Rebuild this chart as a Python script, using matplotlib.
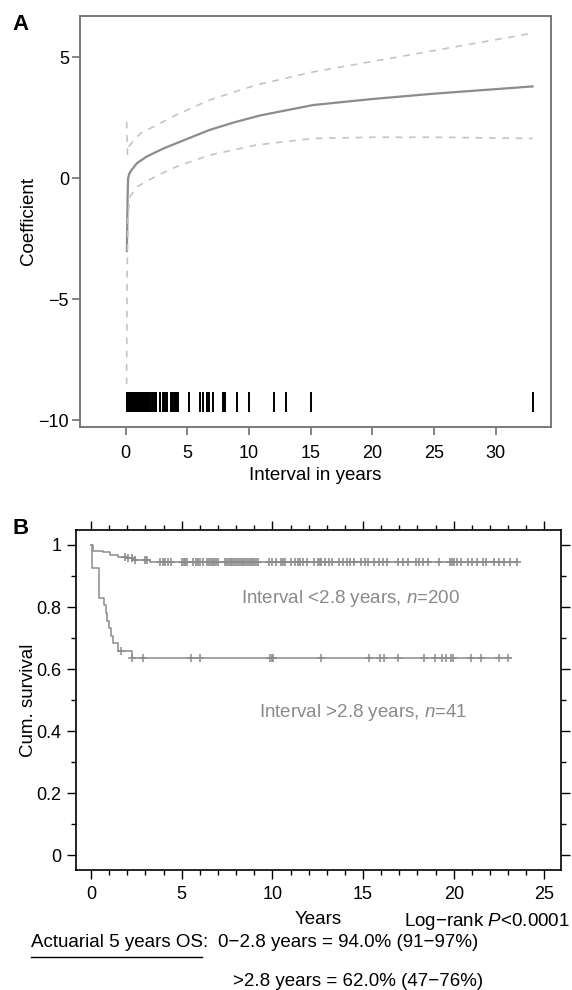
import matplotlib
matplotlib.use("Agg")
import matplotlib.pyplot as plt
from matplotlib.ticker import MultipleLocator

plt.rcParams['font.family'] = ['Liberation Sans', 'DejaVu Sans']
plt.rcParams['mathtext.fontset'] = 'custom'
plt.rcParams['mathtext.rm'] = 'Liberation Sans'
plt.rcParams['mathtext.it'] = 'Liberation Sans:italic'

# ---- panel A: time-varying coefficient ----
fit_x = [0.1, 0.13, 0.16, 0.2, 0.3, 0.5, 0.9, 1.7, 3.0, 4.1, 6.8, 8.7, 10.9, 15.2, 20, 25, 33]
fit_y = [-3.0, -2.0, -0.8, 0.0, 0.2, 0.36, 0.62, 0.9, 1.22, 1.45, 2.0, 2.3, 2.6, 3.03, 3.28, 3.5, 3.8]
upper_x = [0.08, 0.15, 0.3, 1.2, 2.5, 4.1, 6.8, 10.6, 15.2, 20, 25, 33]
upper_y = [2.34, 1.0, 1.35, 1.86, 2.2, 2.62, 3.24, 3.86, 4.4, 4.83, 5.28, 6.0]
lower_x = [0.08, 0.12, 0.2, 0.35, 0.9, 2.5, 4.1, 6.8, 10.6, 15.2, 20, 25, 33]
lower_y = [-8.5, -4.0, -1.5, -0.76, -0.35, 0.1, 0.48, 0.96, 1.38, 1.65, 1.7, 1.7, 1.65]
rug_x = [0.1, 0.15, 0.2, 0.25, 0.3, 0.35, 0.4, 0.45, 0.5, 0.55, 0.6, 0.65, 0.7, 0.75,
         0.8, 0.85, 0.9, 0.95, 1.0, 1.05, 1.1, 1.15, 1.2, 1.25, 1.3,
         1.45, 1.5, 1.6, 1.65, 1.7, 1.8, 1.85, 1.9, 2.0, 2.1, 2.2, 2.3, 2.45, 2.5,
         2.75, 2.8, 3.05, 3.1, 3.3, 3.35, 3.7, 3.75, 3.8, 3.9, 4.0, 4.1, 4.2, 4.25,
         5.1, 6.0, 6.3, 6.6, 6.8, 7.1, 7.9, 8.0, 8.1, 9.0, 10.0, 12.0, 13.0, 15.0, 33.0]

# ---- panel B: Kaplan-Meier ----
g1_t = [0, 0.13, 0.68, 1.05, 1.5, 1.9, 2.3, 3.25, 23.5]
g1_s = [1.0, 0.981, 0.976, 0.968, 0.961, 0.957, 0.951, 0.944, 0.944]
g2_t = [0, 0.06, 0.46, 0.7, 0.8, 0.9, 1.0, 1.1, 1.2, 1.5, 2.27, 23.1]
g2_s = [1.0, 0.927, 0.829, 0.805, 0.780, 0.756, 0.732, 0.707, 0.683, 0.659, 0.635, 0.635]
g1_cens = [1.88, 2.06, 2.25, 2.43, 2.98, 3.07, 3.8, 3.95, 4.1, 4.25, 4.4, 5.0, 5.1, 5.2,
           5.3, 5.6, 5.8, 5.9, 6.0, 6.2, 6.4, 6.5, 6.6, 6.7, 6.8, 6.9, 7.0, 7.4, 7.5,
           7.6, 7.7, 7.8, 7.9, 8.0, 8.1, 8.2, 8.3, 8.4, 8.5, 8.6, 8.7, 8.8, 8.9, 9.0,
           9.1, 9.2, 9.8, 10.0, 10.2, 10.45, 10.6, 10.7, 11.0, 11.25, 11.4, 11.5, 11.7,
           11.9, 12.3, 12.5, 12.6, 12.7, 12.9, 13.1, 13.3, 13.7, 13.9, 14.1, 14.3, 14.5,
           14.9, 15.1, 15.3, 15.6, 15.9, 16.1, 16.3, 16.9, 17.2, 17.5, 17.9, 18.1, 18.3,
           18.6, 19.2, 19.8, 19.9, 20.0, 20.2, 20.4, 20.8, 21.0, 21.3, 21.6, 21.8, 22.2,
           22.5, 22.8, 23.1, 23.5]
g2_cens = [1.67, 2.28, 2.88, 5.51, 6.02, 9.86, 9.96, 10.06, 12.69, 15.32, 15.93, 16.13,
           16.94, 18.35, 18.96, 19.36, 19.56, 19.87, 19.97, 20.98, 21.48, 22.5, 23.0]

W, H = 572, 990
fig = plt.figure(figsize=(W / 100, H / 100), dpi=100)

gray_line = '#8c8c8c'
ci_col = '#c4c4c4'
fs = 13

axA = fig.add_axes([80 / W, 1 - 426.7 / H, 471 / W, 410.7 / H])
axA.plot(fit_x, fit_y, color=gray_line, lw=1.6)
axA.plot(upper_x, upper_y, color=ci_col, lw=1.2, dashes=(4, 4))
axA.plot(lower_x, lower_y, color=ci_col, lw=1.2, dashes=(4, 4))
axA.vlines(rug_x, -9.64, -8.82, color='black', lw=1.4)
axA.set_xlim(-3.7, 34.5)
axA.set_ylim(-10.26, 6.71)
axA.set_xticks([0, 5, 10, 15, 20, 25, 30])
axA.set_yticks([-10, -5, 0, 5])
for s in axA.spines.values():
    s.set_color('#707070')
    s.set_linewidth(1.3)
axA.tick_params(axis='both', colors='#707070', labelcolor='black', labelsize=fs,
                length=6, width=1.2)
axA.tick_params(axis='x', pad=7)
axA.tick_params(axis='y', pad=2)
axA.set_xlabel('Interval in years', fontsize=13.5)
axA.xaxis.set_label_coords(0.5, -0.098)
axA.set_ylabel('Coefficient', fontsize=13.5)
axA.yaxis.set_label_coords(-0.091, 0.5)
fig.text(12 / W, 1 - 25 / H, 'A', fontsize=16, fontweight='bold', va='center')

axB = fig.add_axes([76 / W, 1 - 870 / H, 484.7 / W, 340 / H])
axB.step(g1_t, g1_s, where='post', color=gray_line, lw=1.1)
axB.step(g2_t, g2_s, where='post', color=gray_line, lw=1.1)


def surv_at(times, surv, t):
    val = surv[0]
    for ti, si in zip(times, surv):
        if ti <= t:
            val = si
    return val


axB.plot(g1_cens, [surv_at(g1_t, g1_s, c) for c in g1_cens], ls='none', marker='+',
         ms=6, mew=1.2, color=gray_line)
axB.plot(g2_cens, [surv_at(g2_t, g2_s, c) for c in g2_cens], ls='none', marker='+',
         ms=6, mew=1.1, color=gray_line)
axB.set_xlim(-0.83, 25.9)
axB.set_ylim(-0.047, 1.048)
axB.set_xticks([0, 5, 10, 15, 20, 25])
axB.set_yticks([0, 0.2, 0.4, 0.6, 0.8, 1])
axB.set_yticklabels(['0', '0.2', '0.4', '0.6', '0.8', '1'])
axB.xaxis.set_minor_locator(MultipleLocator(1))
axB.yaxis.set_minor_locator(MultipleLocator(0.1))
for s in axB.spines.values():
    s.set_linewidth(1.2)
axB.tick_params(which='major', direction='out', length=6.5, width=1.0, labelsize=fs,
                top=True, right=True)
axB.tick_params(which='minor', direction='out', length=3.5, width=1.0, top=True, right=True)
axB.tick_params(axis='x', pad=5)
axB.tick_params(axis='y', pad=4)
axB.set_xlabel('Years', fontsize=13.5)
axB.xaxis.set_label_coords(0.5, -0.12)
axB.set_ylabel('Cum. survival', fontsize=13.5)
axB.yaxis.set_label_coords(-0.08, 0.5)
axB.text(14.3, 0.828, 'Interval <2.8 years, $n$=200', color='#8a8a8a', fontsize=13.5,
         ha='center', va='center')
axB.text(15.0, 0.46, 'Interval >2.8 years, $n$=41', color='#8a8a8a', fontsize=13.5,
         ha='center', va='center')
fig.text(12 / W, 1 - 528 / H, 'B', fontsize=16, fontweight='bold', va='center')

fig.text(570 / W, 1 - 922 / H, 'Log\u2212rank $P$<0.0001', fontsize=13.5, ha='right',
         va='center')
fig.text(31 / W, 1 - 942.7 / H, 'Actuarial 5 years OS:', fontsize=13.5, va='center')
fig.add_artist(plt.Line2D([31 / W, 202 / W], [1 - 957 / H, 1 - 957 / H], color='black',
                          lw=1.0))
fig.text(218 / W, 1 - 942.7 / H, '0\u22122.8 years = 94.0% (91\u221297%)', fontsize=13.5,
         va='center')
fig.text(233 / W, 1 - 981 / H, '>2.8 years = 62.0% (47\u221276%)', fontsize=13.5,
         va='center')

fig.savefig('out.png', dpi=100)
